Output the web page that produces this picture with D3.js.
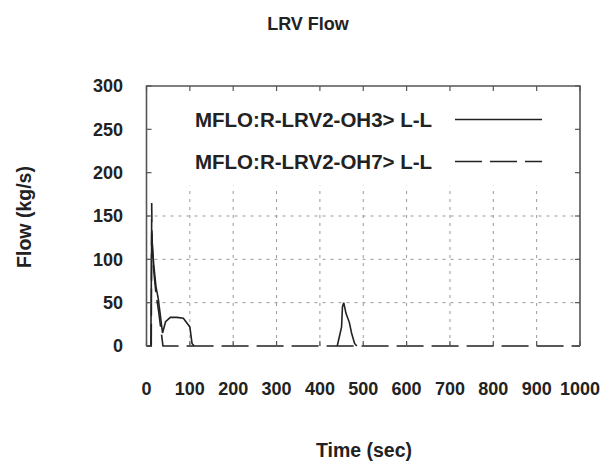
<!DOCTYPE html>
<html>
<head>
<meta charset="utf-8">
<script src="https://cdn.jsdelivr.net/npm/d3@7"></script>
<style>
  html, body { margin: 0; padding: 0; background: #fff; }
  svg { display: block; }
  text { font-family: "Liberation Sans", Arial, sans-serif; font-weight: bold; fill: #222; }
</style>
</head>
<body>
<svg id="chart" width="616" height="464"></svg>
<script>
// Series: mass flow through the two LRV paths, time in seconds, flow in kg/s
const seriesNames = ["MFLO:R-LRV2-OH3> L-L", "MFLO:R-LRV2-OH7> L-L"];

const oh3Time = [0, 10, 12, 14, 17, 22, 27, 32, 37, 44, 55, 70, 85, 100, 105, 110, null,
                 440, 450, 452, 455, 460, 468, 473, 480, 485];
const oh3Flow = [0, 0, 130, 112, 92, 68, 55, 35, 15, 28, 33, 33, 32, 22, 3, 0, null,
                 0, 22, 45, 50, 38, 27, 15, 3, 0];

const oh7Time = [0, 11, 12, 13, 15, 18, 22, 28, 33, 38, 1000];
const oh7Flow = [0, 0, 165, 120, 100, 80, 60, 40, 20, 0, 0];

const xTicks = [0, 100, 200, 300, 400, 500, 600, 700, 800, 900, 1000];
const yTicks = [0, 50, 100, 150, 200, 250, 300];
const gridX = [100, 200, 300, 400, 500, 600, 700, 800, 900];
const gridY = [50, 100, 150];

const svg = d3.select("#chart");
const plotL = 146.5, plotR = 580, plotT = 86, plotB = 346;

const x = d3.scaleLinear().domain([0, 1000]).range([plotL, plotR]);
const y = d3.scaleLinear().domain([0, 300]).range([plotB, plotT]);

// Dotted grid
const grid = svg.append("g").attr("stroke", "#999").attr("stroke-width", 1)
  .attr("stroke-dasharray", "3,5");
grid.selectAll("line.gy").data(gridY).join("line")
  .attr("x1", plotL).attr("x2", plotR)
  .attr("y1", d => y(d)).attr("y2", d => y(d));
grid.selectAll("line.gx").data(gridX).join("line")
  .attr("x1", d => x(d)).attr("x2", d => x(d))
  .attr("y1", plotB).attr("y2", y(200));

// Key area is opaque and sits over the grid
const key = svg.append("g");
key.append("rect").attr("x", plotL + 3).attr("y", plotT + 3)
  .attr("width", plotR - plotL - 6).attr("height", y(185) - plotT - 3).attr("fill", "#fff");

// Data lines
const mk = (ts, vs) => ts.map((t, i) => ({ t, v: vs[i] }));
const line = d3.line().defined(d => d.t !== null).x(d => x(d.t)).y(d => y(d.v));

svg.append("path").datum(mk(oh7Time, oh7Flow))
  .attr("d", line).attr("fill", "none").attr("stroke", "#222")
  .attr("stroke-width", 1.6).attr("stroke-dasharray", "27,8");
svg.append("path").datum(mk(oh3Time, oh3Flow))
  .attr("d", line).attr("fill", "none").attr("stroke", "#222")
  .attr("stroke-width", 1.6);

// Border (left, top, right) and tick marks
svg.append("path")
  .attr("d", `M${plotL},${plotB}V${plotT}H${plotR}V${plotB}`)
  .attr("fill", "none").attr("stroke", "#555").attr("stroke-width", 1.6);

const ticks = svg.append("g").attr("stroke", "#555").attr("stroke-width", 1.2);
ticks.selectAll("line.lt").data(yTicks).join("line")
  .attr("x1", plotL).attr("x2", plotL + 5).attr("y1", d => y(d)).attr("y2", d => y(d));
ticks.selectAll("line.rt").data(yTicks).join("line")
  .attr("x1", plotR).attr("x2", plotR - 5).attr("y1", d => y(d)).attr("y2", d => y(d));
ticks.selectAll("line.tt").data(xTicks).join("line")
  .attr("x1", d => x(d)).attr("x2", d => x(d)).attr("y1", plotT).attr("y2", plotT + 5);
ticks.selectAll("line.bt").data(xTicks).join("line")
  .attr("x1", d => x(d)).attr("x2", d => x(d)).attr("y1", plotB).attr("y2", plotB - 5);

// Tick labels
svg.append("g").selectAll("text").data(yTicks).join("text")
  .attr("x", 123).attr("y", d => y(d)).attr("dy", "0.35em")
  .attr("text-anchor", "end").attr("font-size", 18).text(d => d);
svg.append("g").selectAll("text").data(xTicks).join("text")
  .attr("x", d => x(d)).attr("y", 395)
  .attr("text-anchor", "middle").attr("font-size", 18).text(d => d);

// Key entries
const keyRows = [
  { name: seriesNames[0], dash: null, yv: 119.5 },
  { name: seriesNames[1], dash: "27,8", yv: 161.5 }
];
keyRows.forEach(r => {
  key.append("text").attr("x", 195).attr("y", r.yv).attr("dy", "0.35em")
    .attr("font-size", 20.5).text(r.name);
  key.append("line").attr("x1", 455).attr("x2", 542).attr("y1", r.yv).attr("y2", r.yv)
    .attr("stroke", "#222").attr("stroke-width", 1.6)
    .attr("stroke-dasharray", r.dash);
});

// Titles
svg.append("text").attr("x", 308).attr("y", 30).attr("text-anchor", "middle")
  .attr("font-size", 18).text("LRV Flow");
svg.append("text").attr("x", 364).attr("y", 457).attr("text-anchor", "middle")
  .attr("font-size", 19.5).text("Time (sec)");
svg.append("text").attr("transform", "translate(31,217) rotate(-90)")
  .attr("text-anchor", "middle").attr("font-size", 19.5).text("Flow (kg/s)");
</script>
</body>
</html>
